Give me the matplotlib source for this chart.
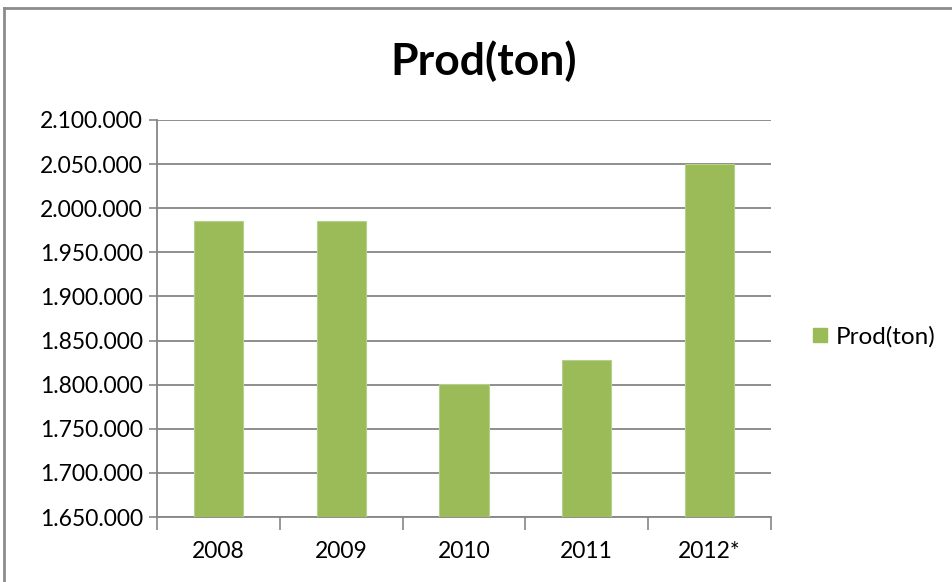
import matplotlib.pyplot as plt
from matplotlib.lines import Line2D
from matplotlib.ticker import FuncFormatter, FixedLocator

years = ['2008', '2009', '2010', '2011', '2012*']
prod_ton = [1985000, 1985000, 1801000, 1828500, 2050000]

y_min, y_max, y_step = 1650000, 2100000, 50000
bar_color = '#9BBB59'
grid_color = '#868686'

plt.rcParams['font.family'] = ['Lato', 'DejaVu Sans']

fig = plt.figure(figsize=(9.53, 5.82), dpi=100)
ax = fig.add_axes([157 / 953, 1 - 517 / 582, 614 / 953, 397 / 582])

x = list(range(len(years)))
ax.bar(x, prod_ton, width=0.4, color=bar_color, edgecolor='#B5D08A',
       linewidth=0.8, zorder=3, label='Prod(ton)')

ax.set_xlim(-0.5, len(years) - 0.5)
ax.set_ylim(y_min, y_max)
ax.set_yticks(range(y_min, y_max + 1, y_step))
ax.yaxis.set_major_formatter(FuncFormatter(lambda v, p: f'{int(v):,}'.replace(',', '.')))
ax.yaxis.grid(True, color=grid_color, linewidth=1.3, zorder=0)

ax.set_xticks(x)
ax.set_xticklabels(years)
ax.xaxis.set_minor_locator(FixedLocator([i - 0.5 for i in range(len(years) + 1)]))
ax.tick_params(axis='x', which='major', length=0, pad=17, labelsize=16.5)
ax.tick_params(axis='x', which='minor', length=9, color=grid_color, width=1.2)
ax.tick_params(axis='y', length=6, color=grid_color, width=1.2, labelsize=16.5, pad=4)

for side in ['top', 'right']:
    ax.spines[side].set_visible(False)
for side in ['left', 'bottom']:
    ax.spines[side].set_color(grid_color)
    ax.spines[side].set_linewidth(1.3)

fig.text(0.508, 1 - 61 / 582, 'Prod(ton)', ha='center', va='center',
         fontsize=32, fontweight='bold')

handle = Line2D([], [], marker='s', linestyle='none', markersize=10,
                markerfacecolor=bar_color, markeredgecolor=bar_color)
fig.legend([handle], ['Prod(ton)'], loc='center left',
           bbox_to_anchor=(808 / 953, 1 - 337 / 582), frameon=False,
           fontsize=17.5, handlelength=1.0, handletextpad=0.15,
           borderpad=0, borderaxespad=0)

# outer chart frame (only left and top edges visible)
fig.add_artist(Line2D([4 / 953, 4 / 953], [0, 1 - 8 / 582], color='#8C8C8C', linewidth=2))
fig.add_artist(Line2D([4 / 953, 1], [1 - 8 / 582, 1 - 8 / 582], color='#8C8C8C', linewidth=2))

fig.savefig('out.png', dpi=100)
